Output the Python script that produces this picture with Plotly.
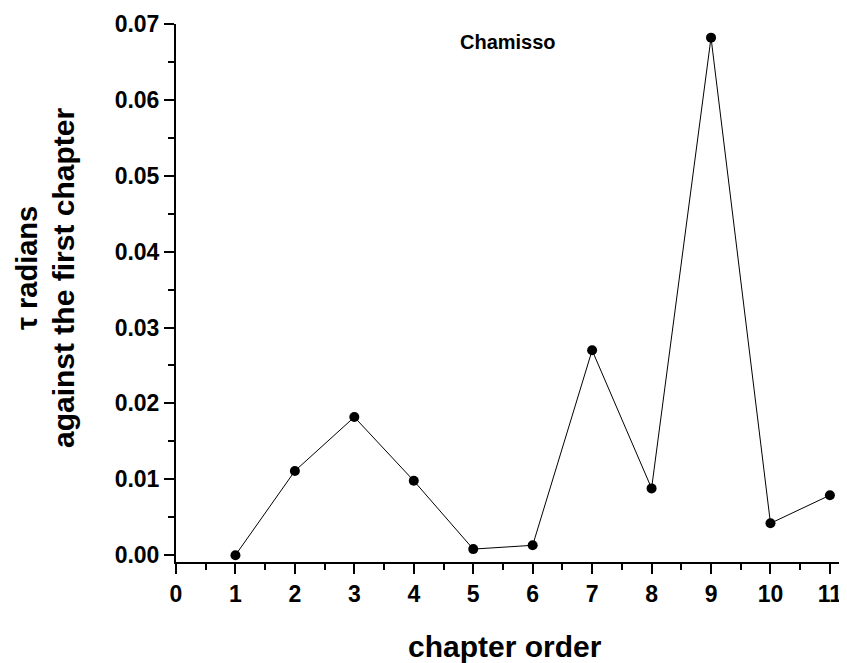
import plotly.graph_objects as go

chapters = [1, 2, 3, 4, 5, 6, 7, 8, 9, 10, 11]
tau = [0.0000, 0.0111, 0.0182, 0.0098, 0.0008, 0.0013, 0.0270, 0.0088, 0.0682, 0.0042, 0.0079]
x_ticks = list(range(0, 12))
y_ticks = [0.00, 0.01, 0.02, 0.03, 0.04, 0.05, 0.06, 0.07]
y_tick_labels = ["0.00", "0.01", "0.02", "0.03", "0.04", "0.05", "0.06", "0.07"]

FONT = "Liberation Sans, Arial, sans-serif"

# page has an 8px body margin; plot area spans page px x 176-843, y 24-562
def px(xp):
    return (xp - 176) / 667

def py(yp):
    return 1 - (yp - 24) / 538

fig = go.Figure()
fig.add_trace(go.Scatter(
    x=chapters, y=tau, mode="lines+markers",
    line=dict(color="black", width=1),
    marker=dict(color="black", size=10, symbol="circle"),
    showlegend=False,
))

fig.update_layout(
    width=839, height=655,
    margin=dict(l=168, r=4, t=16, b=101),
    paper_bgcolor="white", plot_bgcolor="white",
    font=dict(family=FONT, color="black"),
    xaxis=dict(
        range=[0, 11.22], tickmode="array", tickvals=x_ticks,
        ticktext=[f"<b>{v}</b>" for v in x_ticks],
        showgrid=False, zeroline=False, showline=True, linecolor="black", linewidth=2,
        ticks="outside", ticklen=10, tickwidth=2, tickcolor="black",
        tickfont=dict(size=23, family=FONT, color="black"),
        minor=dict(dtick=0.5, tick0=0, ticks="outside", ticklen=6, tickwidth=2, tickcolor="black"),
    ),
    yaxis=dict(
        range=[-0.0009, 0.07], tickmode="array", tickvals=y_ticks,
        ticktext=[f"<b>{t}</b>" for t in y_tick_labels],
        showgrid=False, zeroline=False, showline=True, linecolor="black", linewidth=2,
        ticks="outside", ticklen=10, tickwidth=2, tickcolor="black",
        tickfont=dict(size=23, family=FONT, color="black"),
        minor=dict(dtick=0.005, tick0=0, ticks="outside", ticklen=6, tickwidth=2, tickcolor="black"),
    ),
    annotations=[
        dict(text="<b>Chamisso</b>", xref="paper", yref="paper", x=px(508), y=py(42),
             xanchor="center", yanchor="middle", showarrow=False, font=dict(size=20, family=FONT)),
        dict(text="<b>chapter order</b>", xref="paper", yref="paper", x=px(505), y=py(646),
             xanchor="center", yanchor="middle", showarrow=False, font=dict(size=30, family=FONT)),
        dict(text="<b>τ radians</b>", xref="paper", yref="paper", x=px(27), y=py(268),
             xanchor="center", yanchor="middle", textangle=-90, showarrow=False, font=dict(size=29, family=FONT)),
        dict(text="<b>against the first chapter</b>", xref="paper", yref="paper", x=px(63), y=py(278),
             xanchor="center", yanchor="middle", textangle=-90, showarrow=False, font=dict(size=30, family=FONT)),
    ],
)

fig.write_html("out.html")
